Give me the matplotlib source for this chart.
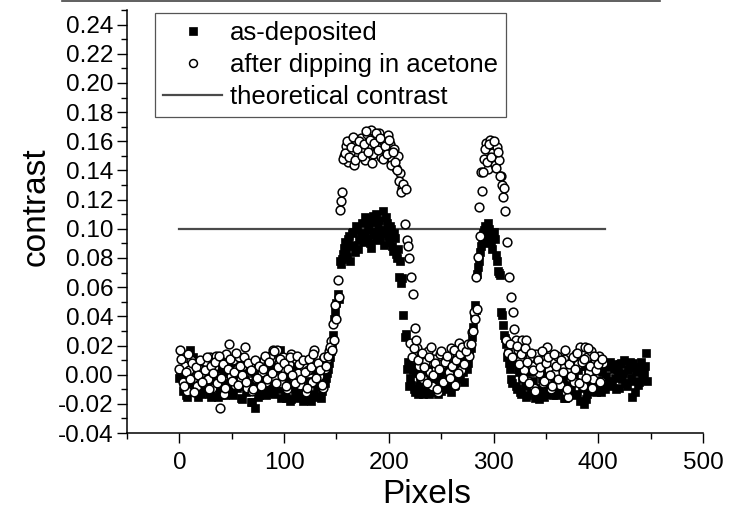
import matplotlib
matplotlib.use("Agg")
import matplotlib.pyplot as plt
import numpy as np
from matplotlib.lines import Line2D
from matplotlib.ticker import MultipleLocator, FormatStrFormatter

plt.rcParams["font.family"] = ["Liberation Sans", "DejaVu Sans"]
plt.rcParams["axes.unicode_minus"] = False

# --- data: contrast profile along the line scan ---
# as-deposited, even pixels
pix_dep_even = np.arange(0, 448, 2)
contrast_dep_even = [
    # 0 - 138, flat background
    -0.002, 0.004, -0.008, -0.014, 0.002, 0.017, -0.006, 0.008, -0.012, -0.015,
    0.001, -0.009, 0.006, -0.004, -0.013, -0.015, 0.003, -0.007, 0.009, -0.011,
    -0.002, 0.005, -0.014, -0.006, 0.002, -0.010, 0.007, -0.003, 0.010, -0.008,
    -0.017, 0.004, -0.012, 0.008, -0.019, -0.006, -0.023, 0.003, -0.014, -0.004,
    0.009, -0.011, 0.002, -0.008, 0.006, -0.013, 0.017, -0.005, 0.017, -0.010,
    0.005, -0.016, -0.003, -0.018, 0.007, -0.012, -0.016, 0.002, -0.009, -0.018,
    0.004, -0.014, -0.006, -0.018, 0.003, -0.015, -0.008, 0.006, -0.011, -0.004,
    # 140 - 156, first edge
    -0.002, 0.004, 0.012, 0.019, 0.038, 0.049, 0.052, 0.076, 0.083,
    # 158 - 206, first stripe
    0.091, 0.081, 0.095, 0.088, 0.098, 0.084, 0.100, 0.092, 0.104, 0.095,
    0.107, 0.099, 0.090, 0.105, 0.096, 0.110, 0.101, 0.093, 0.112, 0.099,
    0.104, 0.091, 0.100, 0.085, 0.094,
    # 208 - 218
    0.080, 0.067, 0.063, 0.041, 0.028, 0.009,
    # 220 - 276, gap
    -0.002, 0.006, -0.010, 0.001, -0.013, -0.004, 0.008, -0.011, -0.001, -0.013,
    0.004, -0.008, -0.012, 0.002, -0.006, -0.011, 0.005, -0.003, -0.009, 0.007,
    -0.004, -0.008, 0.003, 0.010, -0.002, 0.006, -0.005, 0.012, 0.008,
    # 278 - 288, second edge
    0.018, 0.033, 0.048, 0.069, 0.078, 0.088,
    # 290 - 302, second stripe
    0.097, 0.102, 0.094, 0.100, 0.091, 0.098, 0.082,
    # 304 - 312
    0.071, 0.068, 0.041, 0.027, 0.021,
    # 314 - 446, background
    0.015, 0.004, -0.006, 0.009, -0.010, 0.002, -0.013, 0.006, -0.008, -0.014,
    0.003, -0.010, -0.004, -0.016, 0.005, -0.011, -0.002, -0.015, 0.001, -0.009,
    -0.013, 0.004, -0.006, -0.014, 0.007, -0.011, -0.003, -0.016, 0.002, 0.008,
    -0.009, 0.010, -0.005, -0.013, 0.006, -0.008, -0.020, -0.017, 0.004, -0.011,
    0.009, -0.004, -0.012, 0.006, -0.007, 0.002, -0.010, 0.005, -0.004, -0.008,
    0.007, -0.002, 0.004, -0.009, 0.008, 0.001, -0.006, 0.003, 0.009, -0.015,
    -0.004, 0.002, -0.007, 0.005, -0.003, 0.001, 0.015,
]

# as-deposited, odd pixels
pix_dep_odd = np.arange(1, 448, 2)
contrast_dep_odd = [
    # 1 - 139
    0.003, -0.011, 0.000, -0.015, 0.006, -0.004, 0.012, -0.009, -0.001, 0.005,
    -0.013, 0.002, -0.007, 0.008, -0.010, 0.000, -0.005, 0.011, -0.015, 0.004,
    -0.008, 0.001, -0.012, 0.009, -0.004, -0.014, 0.006, -0.009, 0.002, -0.016,
    0.005, -0.003, -0.011, 0.007, -0.019, 0.001, -0.008, -0.015, 0.006, -0.010,
    0.003, -0.014, 0.008, -0.006, -0.012, 0.004, -0.009, 0.014, -0.016, 0.001,
    -0.013, 0.009, -0.007, -0.017, 0.003, -0.010, 0.006, -0.015, -0.002, -0.012,
    0.008, -0.017, -0.004, 0.005, -0.013, -0.008, 0.002, -0.016, 0.010, -0.006,
    # 141 - 157
    0.001, 0.008, 0.016, 0.027, 0.043, 0.055, 0.078, 0.079, 0.087,
    # 159 - 207
    0.084, 0.093, 0.078, 0.097, 0.089, 0.102, 0.086, 0.097, 0.091, 0.108,
    0.094, 0.103, 0.087, 0.109, 0.098, 0.092, 0.106, 0.097, 0.089, 0.108,
    0.095, 0.102, 0.088, 0.097, 0.083,
    # 209 - 219
    0.086, 0.078, 0.066, 0.026, 0.004, -0.008,
    # 221 - 277
    -0.007, 0.003, -0.012, 0.005, -0.008, -0.002, -0.013, 0.004, -0.009, 0.001,
    -0.011, -0.004, 0.006, -0.013, -0.001, 0.003, -0.010, -0.006, 0.004, -0.012,
    0.001, -0.007, 0.006, -0.003, 0.008, 0.002, 0.009, 0.004, 0.014,
    # 279 - 289
    0.026, 0.041, 0.044, 0.074, 0.084, 0.093,
    # 291 - 303
    0.099, 0.090, 0.104, 0.096, 0.086, 0.093, 0.078,
    # 305 - 313
    0.070, 0.043, 0.034, 0.025, 0.012,
    # 315 - 447
    0.008, -0.003, 0.011, -0.008, 0.004, -0.012, -0.002, 0.007, -0.015, -0.006,
    0.002, -0.012, 0.006, -0.009, -0.017, 0.003, -0.005, -0.013, 0.009, -0.008,
    0.000, -0.014, 0.005, -0.010, -0.003, 0.006, -0.016, -0.007, 0.004, -0.011,
    0.007, -0.002, -0.014, 0.003, -0.018, -0.009, 0.006, -0.013, 0.001, -0.006,
    -0.011, 0.008, -0.004, 0.003, -0.012, 0.006, -0.001, -0.007, 0.009, -0.005,
    0.004, -0.010, 0.002, 0.007, -0.003, 0.010, -0.008, 0.005, -0.002, 0.008,
    -0.012, 0.004, -0.005, 0.009, -0.001, 0.006, -0.004,
]

# after dipping in acetone, odd pixels
pix_ace_odd = np.arange(1, 407, 2)
contrast_ace_odd = [
    # 1 - 145, flat background
    0.017, -0.005, 0.006, -0.011, 0.003, 0.010, -0.002, 0.007, -0.008, 0.004,
    0.001, -0.006, 0.009, -0.003, 0.012, -0.009, 0.005, 0.013, -0.004, -0.023,
    0.008, -0.013, 0.014, 0.021, -0.001, 0.010, -0.007, 0.004, 0.012, -0.002,
    0.006, 0.019, -0.009, 0.003, -0.011, 0.007, -0.003, 0.005, -0.008, 0.002,
    0.010, -0.005, 0.008, 0.013, 0.017, -0.002, 0.017, 0.009, -0.006, 0.012,
    0.003, -0.010, 0.007, 0.014, -0.004, 0.011, 0.001, -0.007, 0.009, 0.005,
    -0.012, 0.003, 0.010, -0.005, 0.017, 0.006, -0.001, 0.008, -0.009, 0.004,
    0.011, 0.016, 0.023,
    # 147 - 157, first edge
    0.035, 0.048, 0.065, 0.113, 0.125, 0.150,
    # 159 - 213, first stripe
    0.157, 0.146, 0.160, 0.152, 0.144, 0.158, 0.150, 0.162, 0.155, 0.147,
    0.165, 0.158, 0.168, 0.151, 0.163, 0.156, 0.166, 0.149, 0.160, 0.153,
    0.164, 0.158, 0.147, 0.155, 0.142, 0.150, 0.138, 0.128,
    # 215 - 225
    0.103, 0.092, 0.080, 0.067, 0.055, 0.032,
    # 227 - 277, gap
    0.018, 0.006, 0.013, -0.003, 0.009, 0.016, 0.002, -0.008, 0.011, 0.004,
    -0.012, 0.014, 0.007, -0.004, 0.010, 0.002, 0.018, 0.005, -0.007, 0.012,
    0.022, 0.003, 0.015, 0.008, 0.020, 0.013,
    # 279 - 289, second edge
    0.029, 0.043, 0.067, 0.081, 0.095, 0.126,
    # 291 - 319, second stripe
    0.148, 0.159, 0.141, 0.161, 0.152, 0.144, 0.156, 0.147, 0.136, 0.122,
    0.112, 0.091, 0.067, 0.053, 0.043,
    # 321 - 405, background
    0.024, 0.017, 0.010, 0.024, 0.003, 0.024, -0.004, 0.012, 0.006, -0.009,
    0.014, 0.001, 0.008, -0.006, 0.011, 0.019, 0.003, -0.010, 0.009, 0.001,
    0.013, -0.007, 0.005, 0.011, -0.012, -0.015, 0.004, 0.010, -0.005, 0.014,
    0.007, 0.019, -0.008, 0.019, 0.012, 0.002, 0.016, -0.003, 0.009, 0.005,
    0.013, -0.004, 0.008,
]

# after dipping in acetone, even pixels
pix_ace_even = np.arange(0, 405, 2)
contrast_ace_even = [
    # 0 - 144
    0.004, 0.011, -0.008, 0.002, 0.014, -0.003, 0.008, -0.012, 0.005, 0.000,
    0.010, -0.005, 0.003, 0.012, -0.010, 0.006, 0.001, 0.009, -0.006, 0.013,
    -0.002, 0.007, -0.009, 0.004, 0.011, -0.004, 0.002, 0.015, -0.007, 0.006,
    0.000, 0.012, -0.005, 0.008, 0.003, -0.010, 0.010, -0.002, 0.006, -0.008,
    0.004, 0.013, -0.003, 0.009, 0.001, 0.016, -0.006, 0.005, 0.011, -0.001,
    0.008, -0.008, 0.004, 0.012, 0.000, -0.006, 0.013, 0.007, -0.003, 0.010,
    0.002, -0.009, 0.011, 0.005, 0.014, -0.002, 0.008, 0.003, -0.007, 0.012,
    0.006, 0.013, 0.019,
    # 146 - 156
    0.017, 0.024, 0.038, 0.053, 0.119, 0.148,
    # 158 - 212
    0.152, 0.160, 0.149, 0.156, 0.163, 0.147, 0.155, 0.160, 0.150, 0.158,
    0.167, 0.153, 0.161, 0.145, 0.159, 0.166, 0.154, 0.162, 0.148, 0.157,
    0.151, 0.161, 0.144, 0.153, 0.146, 0.140, 0.133, 0.125,
    # 214 - 224
    0.131, 0.127, 0.088, 0.022, 0.012, 0.018,
    # 226 - 276
    0.024, 0.010, -0.001, 0.015, 0.005, -0.006, 0.012, 0.019, 0.000, 0.008,
    -0.010, 0.004, 0.016, -0.005, 0.009, 0.013, -0.002, 0.006, 0.017, 0.010,
    0.001, 0.014, 0.019, 0.007, 0.016, 0.021,
    # 278 - 288
    0.021, 0.030, 0.038, 0.045, 0.115, 0.139,
    # 290 - 318
    0.139, 0.155, 0.146, 0.158, 0.149, 0.160, 0.142, 0.153, 0.136, 0.130,
    0.128, 0.024, 0.015, 0.021, 0.012,
    # 320 - 404
    0.031, 0.020, 0.007, 0.014, -0.002, 0.018, 0.009, -0.006, 0.015, 0.003,
    -0.011, 0.010, 0.005, 0.016, -0.004, 0.008, 0.012, 0.000, -0.008, 0.014,
    0.006, -0.003, 0.010, 0.002, 0.017, -0.010, 0.007, -0.001, 0.012, 0.004,
    0.015, -0.006, 0.009, 0.011, -0.002, 0.018, 0.006, -0.009, 0.013, 0.003,
    0.007, -0.005, 0.011,
]

theory_x = [0, 406]
theory_y = [0.10, 0.10]

pix_dep = np.concatenate([pix_dep_even, pix_dep_odd])
contrast_dep = np.concatenate([contrast_dep_even, contrast_dep_odd])
pix_ace = np.concatenate([pix_ace_odd, pix_ace_even])
contrast_ace = np.concatenate([contrast_ace_odd, contrast_ace_even])
assert len(pix_dep) == len(contrast_dep)
assert len(pix_ace) == len(contrast_ace)

# --- figure ---
fig = plt.figure(figsize=(7.41, 5.11), dpi=100)
ax = fig.add_axes([0.1714, 0.1526, 0.7773, 0.8278])

ax.plot(theory_x, theory_y, color="#4a4a4a", lw=1.6, zorder=1,
        label="theoretical contrast")
ax.plot(pix_dep, contrast_dep, ls="none", marker="s", ms=6.0,
        mfc="black", mec="black", mew=0.5, zorder=2, label="as-deposited")
ax.plot(pix_ace, contrast_ace, ls="none", marker="o", ms=6.3,
        mfc="white", mec="black", mew=1.1, zorder=3,
        label="after dipping in acetone")

ax.set_xlim(-50, 500)
ax.set_ylim(-0.04, 0.25)
ax.xaxis.set_major_locator(MultipleLocator(100))
ax.xaxis.set_minor_locator(MultipleLocator(50))
ax.yaxis.set_major_locator(MultipleLocator(0.02))
ax.yaxis.set_minor_locator(MultipleLocator(0.01))
ax.yaxis.set_major_formatter(FormatStrFormatter("%.2f"))
ax.set_yticks(np.arange(-0.04, 0.2401, 0.02))

for side in ("top", "right"):
    ax.spines[side].set_visible(False)
for side in ("left", "bottom"):
    ax.spines[side].set_linewidth(1.1)

ax.tick_params(which="major", direction="out", length=7, width=1.0,
               labelsize=17.5, pad=3)
ax.tick_params(which="minor", direction="out", length=4, width=1.0)
ax.tick_params(axis="x", which="major", pad=7)

ax.set_xlabel("Pixels", fontsize=24, labelpad=3)
ax.set_ylabel("contrast", fontsize=24, labelpad=4)
ax.xaxis.label.set_x(0.52)
ax.yaxis.label.set_y(0.535)

handles, labels = ax.get_legend_handles_labels()
order = [1, 2, 0]
leg = ax.legend([handles[i] for i in order], [labels[i] for i in order],
                loc="upper left", bbox_to_anchor=(0.0486, 0.993),
                borderaxespad=0, fontsize=18.5, numpoints=1,
                handlelength=2.3, handletextpad=0.3, labelspacing=0.3,
                borderpad=0.32, fancybox=False, framealpha=1,
                markerscale=0.9)
leg.get_frame().set_edgecolor("#555555")
leg.get_frame().set_linewidth(0.9)

# rule across the top edge
fig.add_artist(Line2D([0.0837, 0.8907], [0.998, 0.998],
                      transform=fig.transFigure, color="#444444", lw=1.2))

fig.savefig("out.png", dpi=100)
